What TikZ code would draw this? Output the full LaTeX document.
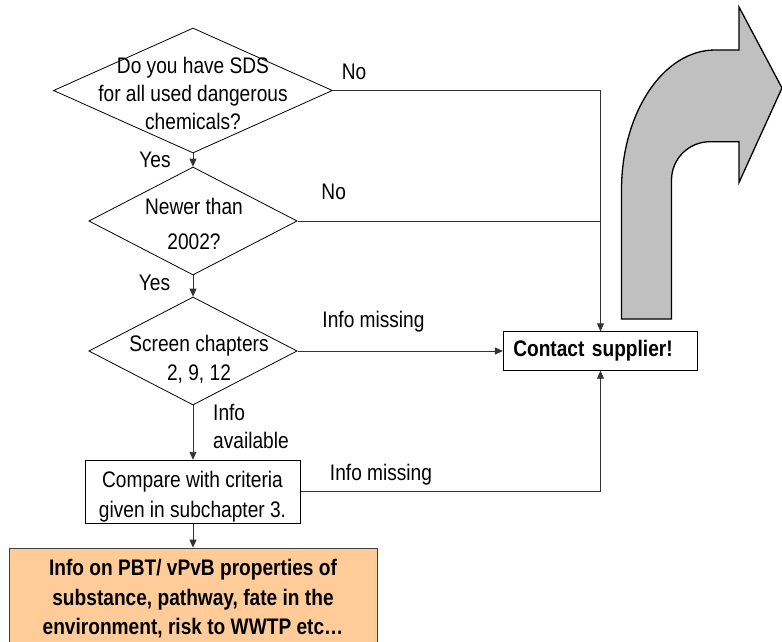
\documentclass[tikz,border=0pt]{standalone}
\usepackage{fontspec}
\setmainfont{Liberation Sans}[FakeStretch=0.85]
\usetikzlibrary{shapes.geometric,arrows.meta}
\definecolor{orangefill}{HTML}{FFCC99}
\definecolor{arrowgray}{HTML}{C0C0C0}
\definecolor{connc}{HTML}{333333}
\tikzset{
  dia/.style={draw=black, line width=0.8pt, diamond, inner sep=0pt},
  txt/.style={inner sep=0pt, align=center, font=\fontsize{22.5}{28.3}\selectfont},
  lbl/.style={inner sep=0pt, font=\fontsize{22.5}{28.3}\selectfont},
  boxw/.style={draw=black, line width=0.8pt, fill=white, inner sep=0pt},
  conn/.style={draw=connc, line width=0.9pt},
  tip/.style={-{Triangle[length=8pt,width=7pt]}},
}
\begin{document}
\begin{tikzpicture}[x=1pt,y=-1pt]
\useasboundingbox (0,0) rectangle (782,642);
\fill[white] (0,0) rectangle (782,642);

% big curved arrow
\draw[fill=arrowgray, line width=1.3pt, line join=miter]
  (621.5,319) -- (671.5,319) -- (671.5,180)
  .. controls (671.5,158.8) and (688.8,141.7) .. (710,141.7)
  -- (739,141.7) -- (739,182.5) -- (782,88) -- (739,7) -- (739,50) -- (715,50)
  .. controls (663.4,50) and (621.5,112.7) .. (621.5,190) -- cycle;

% decisions
\node[dia, minimum width=279pt, minimum height=125pt] (d1) at (193,90.5) {};
\node[txt] (t1) at (193,93.5) {Do you have SDS\\for all used dangerous\\chemicals?};
\node[dia, minimum width=208.4pt, minimum height=108pt] (d2) at (193,221) {};
\node[txt, font=\fontsize{22.5}{35}\selectfont] (t2) at (194,224.3) {Newer than\\2002?};
\node[dia, minimum width=208.4pt, minimum height=108pt] (d3) at (193,351) {};
\node[txt] (t3) at (199,359.4) {Screen chapters\\2, 9, 12};

% boxes
\node[boxw, minimum width=215.7pt, minimum height=63pt] (cmp) at (193,491.7) {};
\node[txt, font=\fontsize{22.5}{30}\selectfont] (tc) at (192.5,496.5) {Compare with criteria\\given in subchapter 3.};
\node[draw=black!75, line width=0.8pt, fill=orangefill, inner sep=0pt,
      minimum width=368pt, minimum height=102pt, align=center,
      font=\bfseries\fontsize{22.5}{29.5}\selectfont] (res) at (193,599)
      {Info on PBT/ vPvB properties of\\substance, pathway, fate in the\\environment, risk to WWTP etc…};
\node[boxw, minimum height=38.6pt, text width=174.4pt, inner xsep=10pt, align=left,
      font=\bfseries\fontsize{22.5}{24}\selectfont] (cs) at (600.5,351) {Contact supplier!};

% connectors
\draw[conn,tip] (d1.south) -- (d2.north);
\draw[conn,tip] (d2.south) -- (d3.north);
\draw[conn,tip] (d3.south) -- (cmp.north);
\draw[conn,tip] (cmp.south) -- (res.north);
\draw[conn] (d2.east) -| (cs.north);
\draw[conn,tip] (d1.east) -| (cs.north);
\draw[conn,tip] (d3.east) -- (cs.west);
\draw[conn,tip] (cmp.east) -| (cs.south);

% labels
\node[lbl] (no1) at (354,71.7) {No};
\node[lbl] (no2) at (333.7,191.7) {No};
\node[lbl] (yes1) at (155,160) {Yes};
\node[lbl] (yes2) at (154.5,283) {Yes};
\node[lbl] (im1) at (373.5,321.7) {Info missing};
\node[lbl] (im2) at (381,475) {Info missing};
\node[lbl, anchor=west, align=left] (ia) at (213,426.3) {Info\\available};
\end{tikzpicture}
\end{document}
